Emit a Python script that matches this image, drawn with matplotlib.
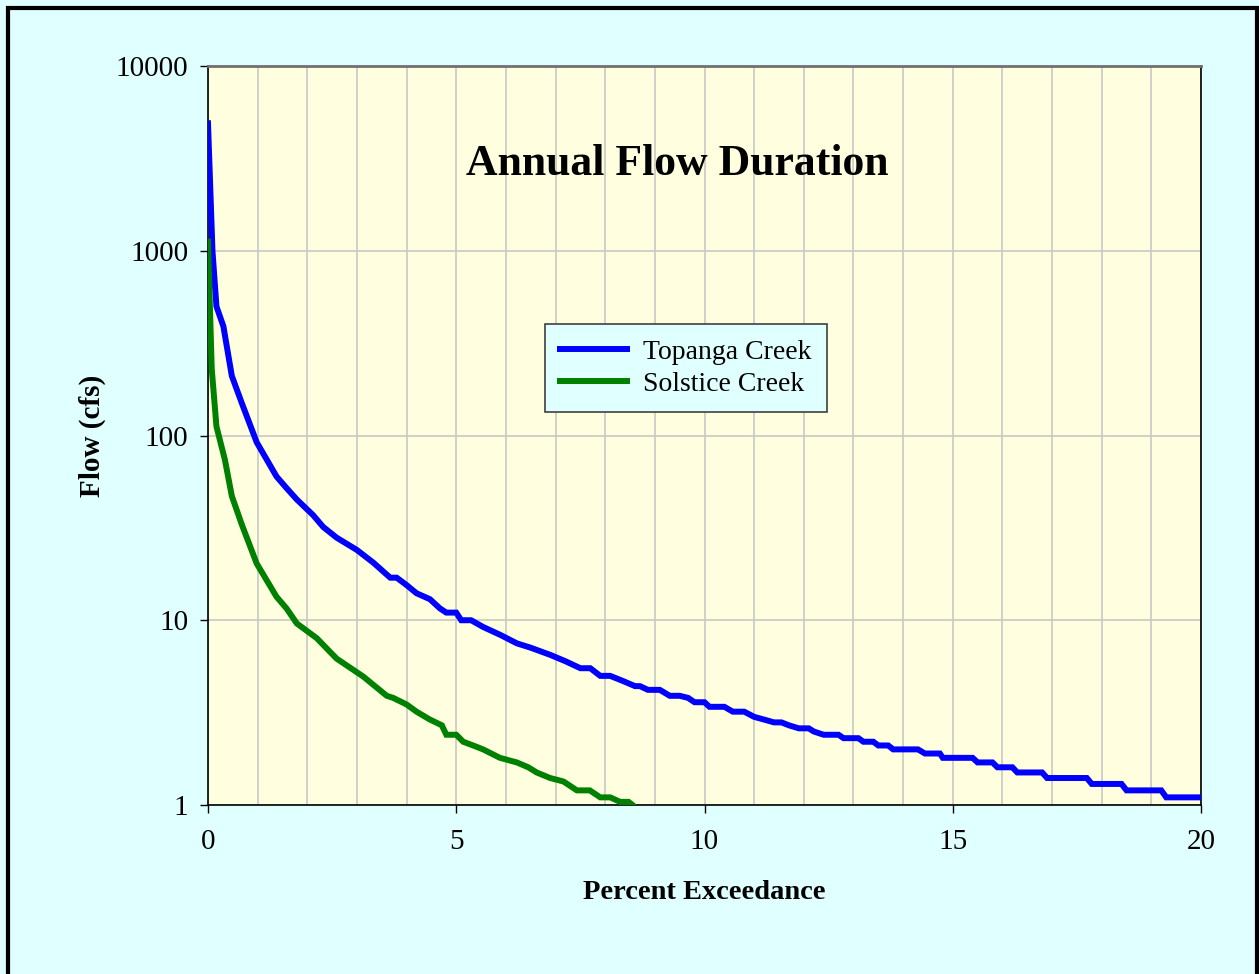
import matplotlib
matplotlib.use("Agg")
import matplotlib.pyplot as plt
from matplotlib.patches import Rectangle
from matplotlib.ticker import MultipleLocator, FixedLocator, FixedFormatter, NullLocator

# percent exceedance / flow (cfs)
topanga_x = [0.0, 0.09, 0.17, 0.31, 0.48, 0.68, 0.98, 1.38, 1.58, 1.79, 2.12, 2.32,
             2.59, 3.0, 3.33, 3.67, 3.8, 4.0, 4.2, 4.47, 4.67, 4.8, 5.0, 5.1, 5.3,
             5.54, 5.9, 6.22, 6.5, 6.89, 7.2, 7.5, 7.7, 7.9, 8.1, 8.35, 8.6, 8.7,
             8.86, 9.1, 9.3, 9.5, 9.67, 9.8, 10.0, 10.1, 10.4, 10.57, 10.8, 11.0,
             11.2, 11.4, 11.55, 11.7, 11.9, 12.1, 12.2, 12.4, 12.7, 12.8, 13.1,
             13.2, 13.4, 13.5, 13.7, 13.8, 14.3, 14.44, 14.74, 14.8, 15.4, 15.5,
             15.8, 15.9, 16.2, 16.3, 16.8, 16.9, 17.7, 17.8, 18.4, 18.5, 19.2,
             19.3, 20.0]
topanga_q = [4900, 1000, 500, 390, 210, 150, 92, 60, 52, 45, 37, 32,
             28, 24, 20.5, 17, 17, 15.5, 14, 13, 11.6, 11, 11, 10, 10,
             9.2, 8.3, 7.5, 7.1, 6.5, 6.0, 5.5, 5.5, 5.0, 5.0, 4.7, 4.4, 4.4,
             4.2, 4.2, 3.9, 3.9, 3.8, 3.6, 3.6, 3.4, 3.4, 3.2, 3.2, 3.0,
             2.9, 2.8, 2.8, 2.7, 2.6, 2.6, 2.5, 2.4, 2.4, 2.3, 2.3,
             2.2, 2.2, 2.1, 2.1, 2.0, 2.0, 1.9, 1.9, 1.8, 1.8, 1.7,
             1.7, 1.6, 1.6, 1.5, 1.5, 1.4, 1.4, 1.3, 1.3, 1.2, 1.2,
             1.1, 1.1]

solstice_x = [0.0, 0.075, 0.17, 0.34, 0.48, 0.68, 0.98, 1.38, 1.58, 1.79, 2.19,
              2.59, 3.13, 3.6, 3.73, 4.0, 4.2, 4.47, 4.71, 4.8, 5.0, 5.14, 5.34,
              5.54, 5.88, 6.22, 6.45, 6.62, 6.89, 7.16, 7.43, 7.69, 7.9, 8.1,
              8.3, 8.47, 8.55]
solstice_q = [1120, 230, 112, 74, 47, 33, 20.3, 13.4, 11.6, 9.6, 8.0,
              6.2, 4.95, 3.9, 3.8, 3.5, 3.2, 2.9, 2.7, 2.4, 2.4, 2.2, 2.1,
              2.0, 1.8, 1.7, 1.6, 1.5, 1.4, 1.34, 1.2, 1.2, 1.1, 1.1,
              1.04, 1.04, 1.0]

y_ticks = [1, 10, 100, 1000, 10000]
x_ticks = [0, 5, 10, 15, 20]

serif = ['Liberation Serif', 'DejaVu Serif']

fig = plt.figure(figsize=(12.59, 9.74), dpi=100, facecolor='#E0FFFF')
ax = fig.add_axes([208 / 1259, 1 - 805 / 974, 993 / 1259, 739 / 974])
ax.set_facecolor('#FFFFE0')

ax.plot(topanga_x, topanga_q, color='#0000FF', lw=4.3, label='Topanga Creek',
        solid_joinstyle='miter', zorder=3)
ax.plot(solstice_x, solstice_q, color='#008000', lw=4.3, label='Solstice Creek',
        solid_joinstyle='miter', zorder=3)

ax.set_yscale('log')
ax.set_ylim(1, 10000)
ax.set_xlim(0, 20)
ax.yaxis.set_major_locator(FixedLocator(y_ticks))
ax.yaxis.set_major_formatter(FixedFormatter([str(t) for t in y_ticks]))
ax.yaxis.set_minor_locator(NullLocator())
ax.xaxis.set_major_locator(FixedLocator(x_ticks))
ax.xaxis.set_minor_locator(MultipleLocator(1))

ax.grid(which='both', color='#C8C8C8', lw=1.2, zorder=0)
ax.set_axisbelow(True)
ax.tick_params(which='major', direction='out', length=6, width=1, pad=11,
               labelsize=21, colors='black')
ax.tick_params(axis='y', which='major', pad=8)
ax.tick_params(which='minor', length=0)
for lab in ax.get_xticklabels() + ax.get_yticklabels():
    lab.set_family(serif)

for s in ['left', 'bottom', 'right']:
    ax.spines[s].set_color('black')
    ax.spines[s].set_linewidth(1.2)
ax.spines['top'].set_color('#707070')
ax.spines['top'].set_linewidth(2)

ax.set_xlabel('Percent Exceedance', family=serif, fontsize=20.5, fontweight='bold',
              labelpad=18)
ax.set_ylabel('Flow (cfs)', family=serif, fontsize=21, fontweight='bold',
              labelpad=7)
ax.text(0.473, 0.868, 'Annual Flow Duration', transform=ax.transAxes,
        ha='center', va='center', family=serif, fontsize=31.5, fontweight='bold')

leg = ax.legend(loc='upper left', bbox_to_anchor=(0.339, 0.651), borderaxespad=0,
                fancybox=False, framealpha=1, facecolor='#E0FFFF',
                edgecolor='#404040', prop={'family': serif, 'size': 20},
                handlelength=2.4, handletextpad=0.6, borderpad=0.55,
                labelspacing=0.25)
leg.get_frame().set_linewidth(1.2)

fig.patches.append(Rectangle((7.5 / 1259, -0.1), (1257 - 7.5) / 1259, 1.1 - 7.5 / 974,
                             transform=fig.transFigure, fill=False, ec='black',
                             lw=3, clip_on=False))

fig.savefig('out.png', dpi=100, facecolor=fig.get_facecolor())
